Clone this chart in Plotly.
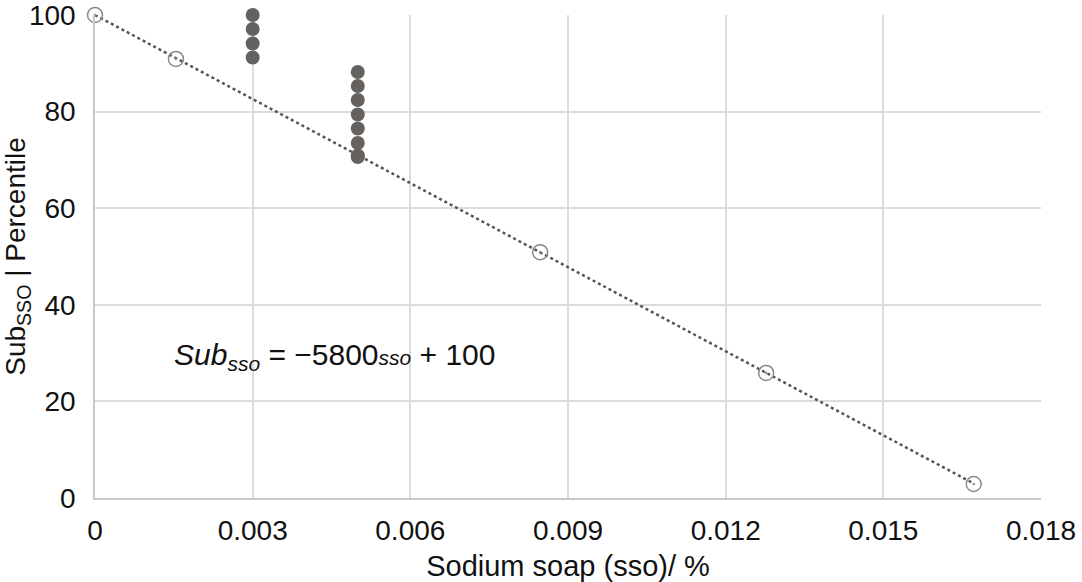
import plotly.graph_objects as go

FONT: str = 'Liberation Sans, Arial, sans-serif'
GRID_COLOR: str = '#dcdcdc'
DARK_GREY: str = '#65615e'
OPEN_GREY: str = '#8a8a8a'

# reference points lying on the fitted line
ref_sso = [0.0, 0.00154, 0.00847, 0.01277, 0.01672]
ref_sub = [100.0, 90.9, 50.9, 25.9, 2.9]

# measured samples
sample_sso = [0.003, 0.003, 0.003, 0.003,
              0.005, 0.005, 0.005, 0.005, 0.005, 0.005, 0.005, 0.005]
sample_sub = [100.0, 97.1, 94.1, 91.2,
              88.2, 85.3, 82.4, 79.4, 76.5, 73.5, 70.9, 70.6]

# fitted line Sub = -5800 sso + 100 (endpoints)
fit_sso = [0.0, 0.01672]
fit_sub = [100.0, 3.0]

x_ticks = [0, 0.003, 0.006, 0.009, 0.012, 0.015, 0.018]
x_labels = ['0', '0.003', '0.006', '0.009', '0.012', '0.015', '0.018']
y_ticks = [0, 20, 40, 60, 80, 100]

fig = go.Figure()

fig.add_trace(go.Scatter(
    x=fit_sso, y=fit_sub, mode='lines',
    line={'color': '#555555', 'width': 2.5, 'dash': 'dot'},
    cliponaxis=False, showlegend=False))

fig.add_trace(go.Scatter(
    x=ref_sso, y=ref_sub, mode='markers',
    marker={'symbol': 'circle-open-dot', 'size': 15,
            'color': OPEN_GREY, 'line': {'width': 1.5, 'color': OPEN_GREY}},
    cliponaxis=False, showlegend=False))

fig.add_trace(go.Scatter(
    x=sample_sso, y=sample_sub, mode='markers',
    marker={'symbol': 'circle', 'size': 14, 'color': DARK_GREY},
    cliponaxis=False, showlegend=False))

fig.add_annotation(
    x=0.00146, y=29.2, xanchor='left', yanchor='middle', showarrow=False,
    text="<i>Sub<sub>sso</sub></i> = \u22125800<i><span style='font-size:21px'>sso</span></i> + 100",
    font={'family': FONT, 'size': 30, 'color': '#111111'})

fig.update_layout(
    width=1082, height=582,
    margin={'l': 95, 'r': 41, 't': 15, 'b': 84},
    plot_bgcolor='white', paper_bgcolor='white',
    font={'family': FONT, 'size': 28, 'color': '#111111'},
    xaxis={
        'range': [0, 0.018], 'automargin': False,
        'tickvals': x_ticks, 'ticktext': x_labels,
        'showgrid': True, 'gridcolor': GRID_COLOR, 'gridwidth': 1.5,
        'zeroline': False, 'showline': True, 'linecolor': '#c8c8c8', 'linewidth': 1.5,
        'ticks': '', 'ticklabelstandoff': 7, 'ticklabeloverflow': 'allow',
        'title': {'text': 'Sodium soap (sso)/ %', 'font': {'size': 29}},
    },
    yaxis={
        'range': [0, 100], 'automargin': False,
        'tickvals': y_ticks,
        'showgrid': True, 'gridcolor': GRID_COLOR, 'gridwidth': 1.5,
        'zeroline': False, 'showline': True, 'linecolor': '#c8c8c8', 'linewidth': 1.5,
        'ticks': '', 'ticklabelstandoff': 12, 'ticklabeloverflow': 'allow',
        'title': {'text': 'Sub<sub>SSO</sub> | Percentile', 'standoff': 16,
                  'font': {'size': 28}},
    },
)

# drop the default page margin so the figure sits at the window's corner
fig.write_html('out.html', config={'displayModeBar': False},
               post_script="document.body.style.margin = '0';")
